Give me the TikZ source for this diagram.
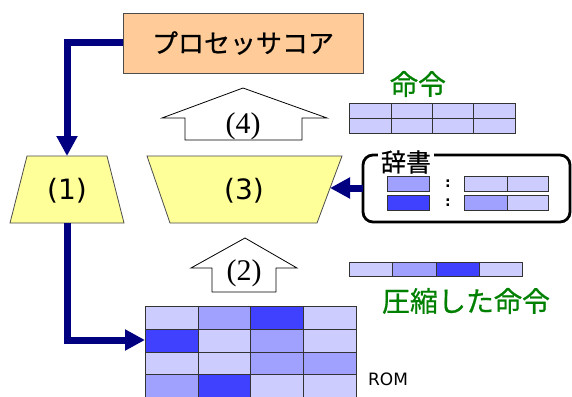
\documentclass[tikz,border=0pt]{standalone}
\usepackage{fontspec}
\usetikzlibrary{arrows.meta}
\newfontfamily\jpf[FakeBold=0.6]{Noto Sans CJK JP}
\newfontfamily\dvs{DejaVu Sans}
\newfontfamily\lser{Liberation Serif}
\definecolor{cLight}{HTML}{CCCCFF}
\definecolor{cMed}{HTML}{A0A0FF}
\definecolor{cDark}{HTML}{4040FF}
\definecolor{navyc}{HTML}{000080}
\definecolor{yel}{HTML}{FFFF99}
\definecolor{orng}{HTML}{FFCC99}
\definecolor{grn}{HTML}{008000}
\tikzset{
  cell/.style={draw=black!80, line width=0.9pt},
  conn/.style={draw=navyc, line width=7pt, -{Triangle[length=20pt,width=20pt]}},
  trap/.style={draw=black!70, line width=0.8pt, fill=yel},
  blockarrow/.style={draw=black, line width=0.8pt, fill=white},
  lbl/.style={inner sep=0pt, anchor=center},
}
\begin{document}
\begin{tikzpicture}[x=1pt,y=-1pt]
\useasboundingbox (0,0) rectangle (572,396);
% processor
\node[draw=black!70, line width=0.9pt, fill=orng, minimum width=240pt, minimum height=60pt, inner sep=0pt] (proc) at (243,43) {\jpf\fontsize{26}{30}\selectfont プロセッサコア};
% trapezium (1)
\draw[trap] (27,156) -- (107,156) -- (124,223) -- (10,223) -- cycle;
\node[lbl] (t1) at (67,191) {\dvs\fontsize{28}{30}\selectfont (1)};
\coordinate (t1top) at (67,156);
\coordinate (t1bot) at (67,223);
% trapezium (3)
\draw[trap] (147,156) -- (342,156) -- (317,223) -- (170,223) -- cycle;
\node[lbl] (t3) at (244,191) {\dvs\fontsize{28}{30}\selectfont (3)};
\coordinate (t3right) at (330,188);
% block arrow (4)
\draw[blockarrow] (243,88) -- (327,118) -- (302,118) -- (302,140) -- (185,140) -- (185,118) -- (162,118) -- cycle;
\node[lbl] (a4) at (243,126) {\lser\fontsize{30}{30}\selectfont (4)};
% block arrow (2)
\draw[blockarrow] (245,238) -- (297,268) -- (276,268) -- (276,292) -- (212,292) -- (212,268) -- (191,268) -- cycle;
\node[lbl] (a2) at (244,273) {\lser\fontsize{30}{30}\selectfont (2)};
% instruction table
\node[lbl, text=grn] (meirei) at (418,84) {\jpf\fontsize{28}{30}\selectfont 命令};
\foreach \xa/\xb in {349/391,391/432,432/473,473/515}{
  \draw[cell, fill=cLight] (\xa,103) rectangle (\xb,118);
  \draw[cell, fill=cLight] (\xa,118) rectangle (\xb,133);
}
% dictionary
\draw[draw=black, line width=2.8pt, rounded corners=10pt] (363,155) rectangle (570,222);
\node[fill=white, inner xsep=3pt, inner ysep=0pt] (jisho) at (406,162) {\jpf\fontsize{25}{26}\selectfont 辞書};
\coordinate (dictleft) at (363,188);
\draw[cell, fill=cMed] (387,176) rectangle (429,191);
\draw[cell, fill=cLight] (464,176) rectangle (507,191);
\draw[cell, fill=cLight] (507,176) rectangle (548,191);
\draw[cell, fill=cDark] (387,195) rectangle (429,210);
\draw[cell, fill=cMed] (464,195) rectangle (507,210);
\draw[cell, fill=cLight] (507,195) rectangle (548,210);
\node[lbl] (c1) at (448,184) {\dvs\bfseries\fontsize{14}{14}\selectfont :};
\node[lbl] (c2) at (448,203) {\dvs\bfseries\fontsize{14}{14}\selectfont :};
% compressed bar
\draw[cell, fill=cLight] (349,262) rectangle (392,276);
\draw[cell, fill=cMed] (392,262) rectangle (436,276);
\draw[cell, fill=cDark] (436,262) rectangle (479,276);
\draw[cell, fill=cLight] (479,262) rectangle (522,276);
\node[lbl, text=grn] (comp) at (466,301) {\jpf\fontsize{28}{30}\selectfont 圧縮した命令};
% ROM grid
\foreach \r/\ya/\yb/\ca/\cb/\cc/\cd in {
  0/306/329/cLight/cMed/cDark/cLight,
  1/329/352/cDark/cLight/cMed/cLight,
  2/352/374/cLight/cLight/cMed/cMed,
  3/374/397/cMed/cDark/cLight/cLight}{
  \draw[cell, fill=\ca] (145,\ya) rectangle (198,\yb);
  \draw[cell, fill=\cb] (198,\ya) rectangle (250,\yb);
  \draw[cell, fill=\cc] (250,\ya) rectangle (303,\yb);
  \draw[cell, fill=\cd] (303,\ya) rectangle (356,\yb);
}
\coordinate (romleft) at (145,340);
\node[lbl] (romlbl) at (388,379) {\dvs\fontsize{17}{20}\selectfont ROM};
% connectors
\draw[conn] (proc.west) -| (t1top);
\draw[conn] (t1bot) |- (romleft);
\draw[conn] (dictleft) -- (t3right);
\end{tikzpicture}
\end{document}
